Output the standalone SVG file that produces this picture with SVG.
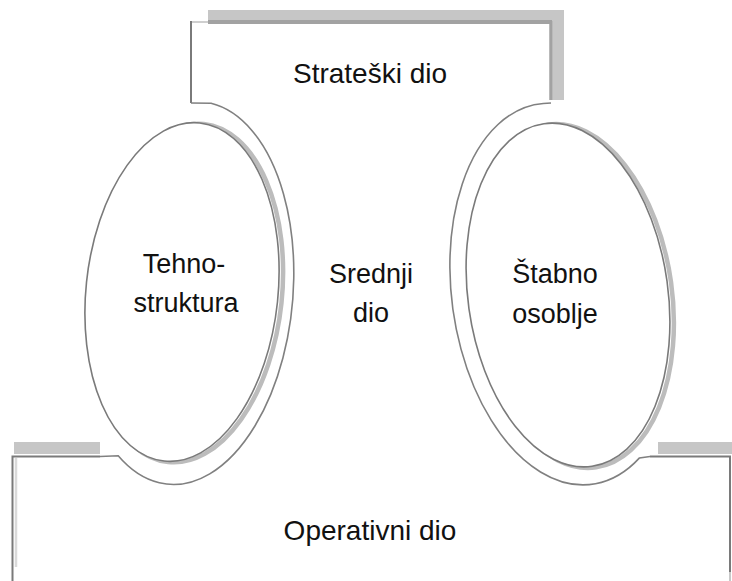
<svg xmlns="http://www.w3.org/2000/svg" width="732" height="581" viewBox="0 0 732 581">
  <style>
    .lbl { font-family: "Liberation Sans", Arial, sans-serif; font-size: 27px; fill: #111; text-anchor: middle; }
    .big { font-size: 28px; }
    .edge { fill: none; stroke: #7a7a7a; stroke-width: 2; }
    .thin { fill: none; stroke: #808080; stroke-width: 1.6; }
    .band { fill: #c6c6c6; }
    .shadow { fill: none; stroke: #bcbcbc; stroke-width: 4.5; }
  </style>
  <rect width="732" height="581" fill="#ffffff"/>

  <g id="strateski-dio">
    <rect class="band" x="208" y="10" width="356" height="11"/>
    <rect class="band" x="553" y="10" width="11" height="90"/>
    <line x1="208" y1="22" x2="552" y2="22" stroke="#a2a2a2" stroke-width="4"/>
    <line x1="191" y1="22" x2="208" y2="22" stroke="#cfcfcf" stroke-width="2"/>
    <line x1="551" y1="21" x2="551" y2="100" stroke="#a2a2a2" stroke-width="3.5"/>
    <line x1="191" y1="21" x2="191" y2="103" class="edge"/>
    <text class="lbl big" x="370" y="83">Strateški dio</text>
  </g>

  <g id="operativni-dio">
    <rect class="band" x="14" y="442" width="86" height="12"/>
    <rect class="band" x="658" y="442" width="74" height="12"/>
    <line x1="16" y1="458" x2="16" y2="567" stroke="#dadada" stroke-width="2.5"/>
    <path class="edge" d="M12.5,581 L12.5,456.5 L100,456.5"/>
    <path class="edge" d="M650,456.5 L730,456.5 L730,572"/>
    <line x1="730" y1="572" x2="730" y2="581" stroke="#c8c8c8" stroke-width="2"/>
    <text class="lbl big" x="370" y="540">Operativni dio</text>
  </g>

  <g id="srednji-dio">
    <text class="lbl" x="371" y="283">Srednji</text>
    <text class="lbl" x="371" y="322">dio</text>
  </g>

  <g id="tehnostruktura">
    <ellipse class="shadow" cx="186" cy="293" rx="96" ry="170" transform="rotate(6 186 293)"/>
    <ellipse cx="182" cy="292" rx="96" ry="170" transform="rotate(6 182 292)" fill="#ffffff" stroke="#7a7a7a" stroke-width="1.6"/>
    <text class="lbl" x="184" y="273">Tehno-</text>
    <text class="lbl" x="186" y="312">struktura</text>
  </g>

  <g id="stabno-osoblje">
    <ellipse class="shadow" cx="572" cy="296" rx="100" ry="173" transform="rotate(-8 572 296)"/>
    <ellipse cx="568" cy="295" rx="100" ry="173" transform="rotate(-8 568 295)" fill="#ffffff" stroke="#7a7a7a" stroke-width="1.6"/>
    <text class="lbl" x="555" y="283">Štabno</text>
    <text class="lbl" x="555" y="323">osoblje</text>
  </g>

  <g id="connectors">
    <path class="thin" d="M191,103 L211.1,103.3 A108 192 5 1 1 118.2,455.8 L100,456.5"/>
    <path class="thin" d="M551,103 L543.3,103.5 A114 192 -8 1 0 639.5,457.9 L650,456.5"/>
  </g>
</svg>
